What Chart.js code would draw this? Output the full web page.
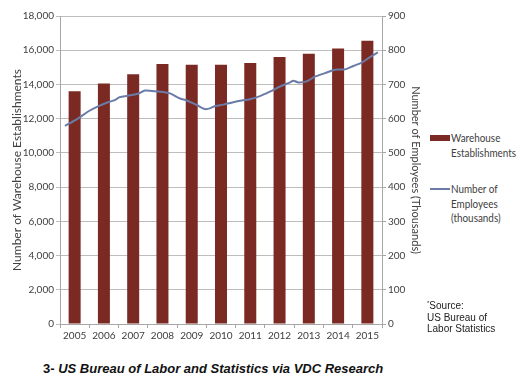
<!DOCTYPE html>
<html>
<head>
<meta charset="utf-8">
<script src="https://cdn.jsdelivr.net/npm/chart.js@4"></script>
<style>
  body { margin: 0; background: #fff; width: 522px; height: 390px; position: relative; overflow: hidden; }
  #wrap { position: absolute; left: 0; top: 0; width: 430px; height: 350px; }
  .legend { position: absolute; font-family: Lato, sans-serif; font-size: 11.5px; color: #404040; line-height: 14.5px; transform: scaleX(0.86); transform-origin: left top; white-space: nowrap; }
  .swatch-bar { position: absolute; width: 20px; height: 6px; background: #7a2a22; }
  .swatch-line { position: absolute; width: 20px; height: 2px; background: #6b7ba7; }
  .source { position: absolute; left: 427px; top: 298px; font-family: "Liberation Sans", Arial, sans-serif; font-size: 10px; line-height: 11.5px; color: #222; }
  .caption { position: absolute; left: 43px; top: 361px; font-family: "Liberation Sans", Arial, sans-serif; font-size: 13px; font-weight: bold; color: #111; white-space: nowrap; }
</style>
</head>
<body>
<div id="wrap"><canvas id="chart" width="430" height="350"></canvas></div>

<div class="swatch-bar" style="left:430px; top:135px;"></div>
<div class="legend" style="left:451px; top:131px;">Warehouse<br>Establishments</div>
<div class="swatch-line" style="left:430px; top:188px;"></div>
<div class="legend" style="left:451px; top:182px;">Number of<br>Employees<br>(thousands)</div>

<div class="source"><sup style="font-size:6px">*</sup>Source:<br>US Bureau of<br>Labor Statistics</div>
<div class="caption">3- <i>US Bureau of Labor and Statistics via VDC Research</i></div>

<script>
// years on the category axis
const years = ['2005', '2006', '2007', '2008', '2009', '2010', '2011', '2012', '2013', '2014', '2015'];

// warehouse establishments per year (left axis)
const establishments = [13600, 14050, 14600, 15200, 15150, 15150, 15250, 15600, 15800, 16100, 16550];

// employees in thousands (right axis), sampled along the time line
const empTime = [
  2005.17, 2005.61, 2005.96, 2006.30, 2006.64, 2006.87, 2007.04, 2007.32, 2007.66, 2007.91,
  2008.24, 2008.58, 2008.76, 2009.10, 2009.33, 2009.67, 2009.95, 2010.12, 2010.30, 2010.58,
  2010.92, 2011.21, 2011.49, 2011.83, 2012.17, 2012.52, 2012.86, 2012.97, 2013.14, 2013.43,
  2013.71, 2014.05, 2014.40, 2014.74, 2015.02, 2015.31, 2015.59, 2015.86
];
const employees = [
  579, 600, 621, 636, 648, 654, 663, 667, 673, 682,
  680, 677, 674, 659, 653, 640, 628, 630, 637, 641,
  648, 653, 657, 666, 679, 694, 706, 711, 706, 709,
  723, 733, 743, 744, 754, 764, 780, 794
];

const leftTicks = { min: 0, max: 18000, step: 2000 };
const rightTicks = { min: 0, max: 900, step: 100 };

const tickFont = { family: 'Lato, sans-serif', size: 10 };
const tickColor = '#404040';
const gridColor = '#bdbdbd';
const axisColor = '#a6a6a6';

const empPoints = empTime.map((t, i) => ({ x: t, y: employees[i] }));

new Chart(document.getElementById('chart'), {
  type: 'bar',
  data: {
    labels: years,
    datasets: [
      {
        type: 'line',
        label: 'Number of Employees (thousands)',
        data: empPoints,
        xAxisID: 'xLine',
        yAxisID: 'yR',
        borderColor: '#6b7ba7',
        borderWidth: 2,
        pointRadius: 0,
        tension: 0.3,
        fill: false,
        order: 0
      },
      {
        label: 'Warehouse Establishments',
        data: establishments,
        xAxisID: 'x',
        yAxisID: 'y',
        backgroundColor: '#7a2a22',
        grouped: false,
        barPercentage: 0.41,
        categoryPercentage: 1,
        order: 1
      }
    ]
  },
  options: {
    responsive: false,
    devicePixelRatio: 1,
    animation: false,
    layout: { padding: { top: 16, left: 0, right: 0, bottom: 0 } },
    plugins: { legend: { display: false }, tooltip: { enabled: false } },
    scales: {
      x: {
        position: 'bottom',
        afterFit: s => { s.height = 26; },
        grid: { display: true, drawOnChartArea: false, offset: true, tickLength: 4, color: axisColor },
        border: { color: axisColor },
        ticks: { font: tickFont, color: tickColor, padding: 2, maxRotation: 0 }
      },
      xLine: {
        type: 'linear',
        axis: 'x',
        display: false,
        offset: false,
        grid: { offset: false },
        min: 2005,
        max: 2016
      },
      y: {
        position: 'left',
        min: leftTicks.min,
        max: leftTicks.max,
        afterFit: s => { s.width = 60; },
        grid: { color: gridColor, tickLength: 4 },
        border: { color: axisColor },
        ticks: {
          stepSize: leftTicks.step,
          font: tickFont,
          color: tickColor,
          padding: 2,
          callback: v => v.toLocaleString('en-US')
        },
        title: {
          display: true,
          text: 'Number of Warehouse Establishments',
          font: { family: 'Lato, sans-serif', size: 12 },
          color: tickColor,
          padding: { top: 10, bottom: 0 }
        }
      },
      yR: {
        position: 'right',
        min: rightTicks.min,
        max: rightTicks.max,
        afterFit: s => { s.width = 48; },
        grid: { drawOnChartArea: false, tickLength: 4, color: axisColor },
        border: { color: axisColor },
        ticks: { stepSize: rightTicks.step, font: tickFont, color: tickColor, padding: 2 },
        title: {
          display: true,
          text: 'Number of Employees (Thousands)',
          font: { family: 'Lato, sans-serif', size: 11 },
          color: tickColor,
          padding: { top: 8, bottom: 0 }
        }
      }
    }
  }
});
</script>
</body>
</html>
